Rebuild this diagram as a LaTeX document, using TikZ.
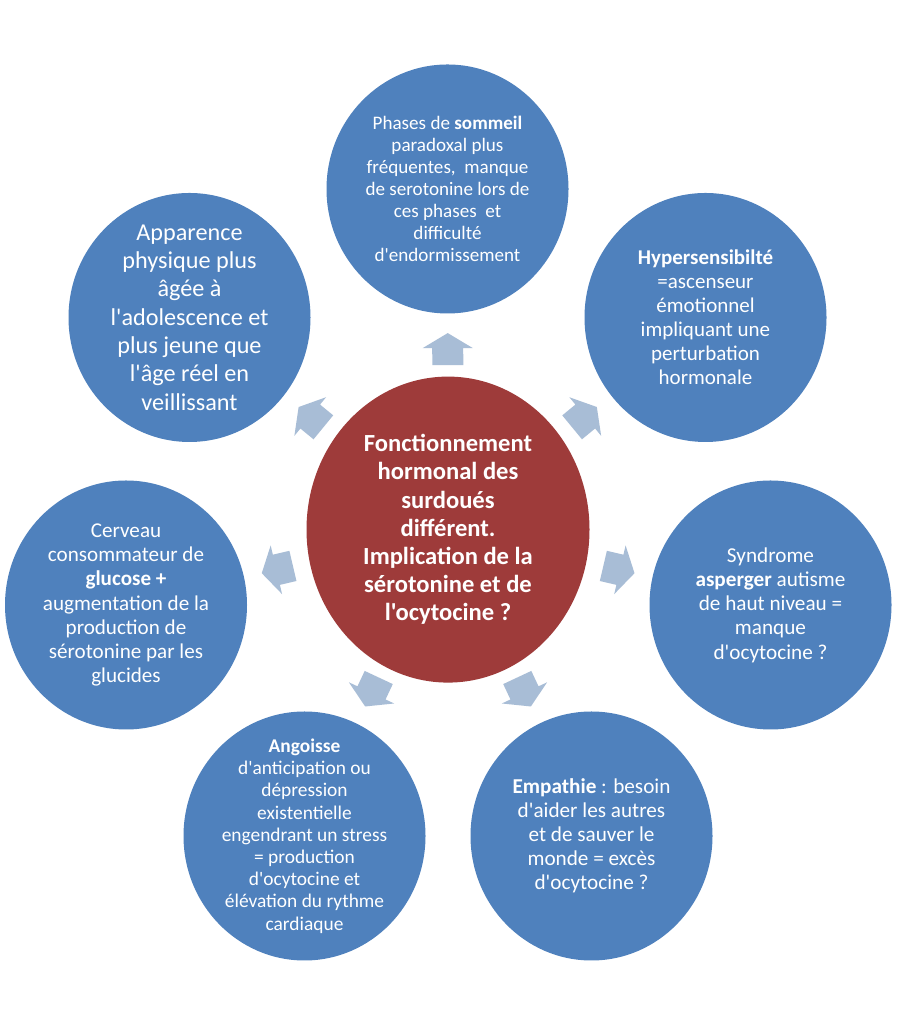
\documentclass[tikz,border=0pt]{standalone}
\usepackage{fontspec}
\newfontfamily\calib{Carlito}
\usetikzlibrary{shapes.geometric,calc}
\definecolor{bubblec}{HTML}{4F81BD}
\definecolor{hubc}{HTML}{9E3B3A}
\definecolor{arrowc}{HTML}{A8BDD6}
\begin{document}
\begin{tikzpicture}[x=1pt,y=1pt,
  bubble/.style={ellipse, fill=bubblec, minimum width=242pt, minimum height=249pt, inner sep=0pt},
  hub/.style={ellipse, fill=hubc, minimum width=283pt, minimum height=306pt, inner sep=0pt},
  txt/.style={text=white, align=center, inner sep=0pt},
  blockarrow/.style={fill=arrowc}]
\useasboundingbox[fill=white] (0,0) rectangle (896,1024);

\node[hub] (c) at (448,494.4) {};
\node[bubble] (s1) at (447.5,835) {};
\node[bubble] (s2) at (705.5,706.5) {};
\node[bubble] (s3) at (770.5,419) {};
\node[bubble] (s4) at (591.5,188) {};
\node[bubble] (s5) at (304.5,188) {};
\node[bubble] (s6) at (126,419) {};
\node[bubble] (s7) at (189.5,706.5) {};

\foreach \i in {1,...,7}
  \fill[blockarrow] let \p1=($(s\i)-(c)$), \n1={atan2(\y1,\x1)} in
    [shift={($(c)!0.53!(s\i)$)}, rotate=\n1]
    (-16,-15.5) -- (1,-15.5) -- (1,-25) -- (16,0) -- (1,25) -- (1,15.5) -- (-16,15.5) -- cycle;

\node[txt, font=\calib\bfseries\fontsize{24.6}{28.2}\selectfont] (ct) at (c)
  {Fonctionnement\\hormonal des\\surdoués\\différent.\\Implication de la\\sérotonine et de\\l'ocytocine ?};

\node[txt, font=\calib\fontsize{19.1}{22}\selectfont] (t1) at (s1)
  {Phases de \textbf{sommeil}\\paradoxal plus\\fréquentes,\ \ manque\\de serotonine lors de\\ces phases\ \ et\\difficulté\\d'endormissement};

\node[txt, font=\calib\fontsize{21}{24}\selectfont] (t2) at (s2)
  {\textbf{Hypersensibilté}\\=ascenseur\\émotionnel\\impliquant une\\perturbation\\hormonale};

\node[txt, font=\calib\fontsize{21.2}{24.2}\selectfont] (t3) at (s3)
  {Syndrome\\\textbf{asperger} autisme\\de haut niveau =\\manque\\d'ocytocine ?};

\node[txt, font=\calib\fontsize{21.2}{24}\selectfont] (t4) at (s4)
  {\textbf{Empathie} : besoin\\d'aider les autres\\et de sauver le\\monde = excès\\d'ocytocine ?};

\node[txt, font=\calib\fontsize{19.4}{22.2}\selectfont] (t5) at (s5)
  {\textbf{Angoisse}\\d'anticipation ou\\dépression\\existentielle\\engendrant un stress\\= production\\d'ocytocine et\\élévation du rythme\\cardiaque};

\node[txt, font=\calib\fontsize{21.1}{24.3}\selectfont] (t6) at (s6)
  {Cerveau\\consommateur de\\\textbf{glucose +}\\augmentation de la\\production de\\sérotonine par les\\glucides};

\node[txt, font=\calib\fontsize{24.2}{28.3}\selectfont] (t7) at (s7)
  {Apparence\\physique plus\\âgée à\\l'adolescence et\\plus jeune que\\l'âge réel en\\veillissant};
\end{tikzpicture}
\end{document}
